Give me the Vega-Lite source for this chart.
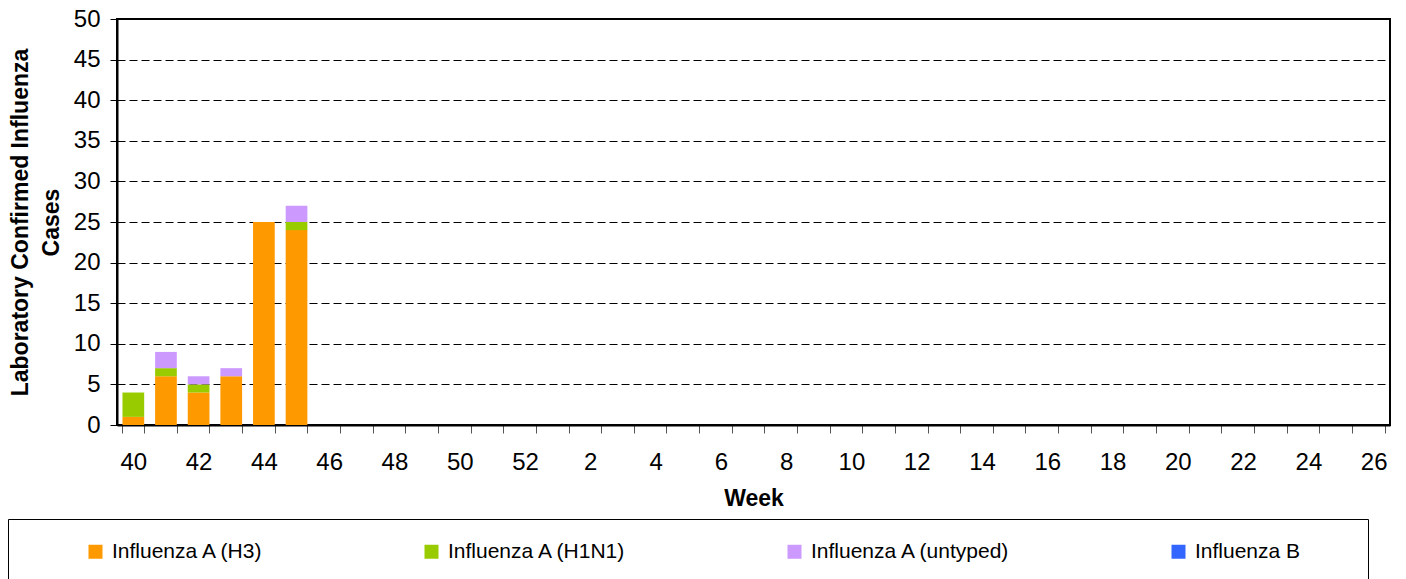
{
  "$schema": "https://vega.github.io/schema/vega-lite/v6.json",
  "width": 1273,
  "height": 406,
  "autosize": {"type": "none"},
  "padding": {"left": 117, "top": 19, "right": 16, "bottom": 154},
  "background": "#ffffff",
  "config": {
    "font": "Liberation Sans",
    "view": {"stroke": "#000000", "strokeWidth": 2}
  },
  "data": {
    "values": [
      {"week": 40, "type": "Influenza A (H3)", "cases": 1},
      {"week": 40, "type": "Influenza A (H1N1)", "cases": 3},
      {"week": 41, "type": "Influenza A (H3)", "cases": 6},
      {"week": 41, "type": "Influenza A (H1N1)", "cases": 1},
      {"week": 41, "type": "Influenza A (untyped)", "cases": 2},
      {"week": 42, "type": "Influenza A (H3)", "cases": 4},
      {"week": 42, "type": "Influenza A (H1N1)", "cases": 1},
      {"week": 42, "type": "Influenza A (untyped)", "cases": 1},
      {"week": 43, "type": "Influenza A (H3)", "cases": 6},
      {"week": 43, "type": "Influenza A (untyped)", "cases": 1},
      {"week": 44, "type": "Influenza A (H3)", "cases": 25},
      {"week": 45, "type": "Influenza A (H3)", "cases": 24},
      {"week": 45, "type": "Influenza A (H1N1)", "cases": 1},
      {"week": 45, "type": "Influenza A (untyped)", "cases": 2}
    ]
  },
  "transform": [
    {"calculate": "indexof(['Influenza A (H3)', 'Influenza A (H1N1)', 'Influenza A (untyped)', 'Influenza B'], datum.type)", "as": "stackOrder"}
  ],
  "mark": {"type": "bar"},
  "encoding": {
    "x": {
      "field": "week",
      "type": "ordinal",
      "sort": null,
      "scale": {
        "domain": [40, 41, 42, 43, 44, 45, 46, 47, 48, 49, 50, 51, 52, 1, 2, 3, 4, 5, 6, 7, 8, 9, 10, 11, 12, 13, 14, 15, 16, 17, 18, 19, 20, 21, 22, 23, 24, 25, 26],
        "paddingInner": 0.335,
        "paddingOuter": 0.1675
      },
      "axis": {
        "title": "Week",
        "labelExpr": "datum.value % 2 == 0 ? datum.label : ''",
        "tickBand": "extent",
        "labelAngle": 0,
        "labelFontSize": 24,
        "labelColor": "#000000",
        "labelPadding": 17,
        "tickSize": 8,
        "tickColor": "#555555",
        "domainColor": "#000000",
        "domainWidth": 2,
        "grid": false,
        "titleFontSize": 23,
        "titleFontWeight": "bold",
        "titleColor": "#000000",
        "titlePadding": 13
      }
    },
    "y": {
      "field": "cases",
      "type": "quantitative",
      "stack": "zero",
      "scale": {"domain": [0, 50], "nice": false},
      "axis": {
        "title": ["Laboratory Confirmed Influenza", "Cases"],
        "values": [0, 5, 10, 15, 20, 25, 30, 35, 40, 45, 50],
        "labelFontSize": 24,
        "labelColor": "#000000",
        "labelPadding": 10,
        "tickSize": 7,
        "tickColor": "#000000",
        "domainColor": "#000000",
        "domainWidth": 2,
        "grid": true,
        "gridColor": "#000000",
        "gridDash": [8, 4],
        "gridWidth": 1,
        "titleFontSize": 23,
        "titleFontWeight": "bold",
        "titleColor": "#000000",
        "titleLineHeight": 31,
        "titlePadding": 10
      }
    },
    "order": {"field": "stackOrder", "type": "quantitative", "sort": "ascending"},
    "color": {
      "field": "type",
      "type": "nominal",
      "scale": {
        "domain": ["Influenza A (H3)", "Influenza A (H1N1)", "Influenza A (untyped)", "Influenza B"],
        "range": ["#FF9900", "#99CC00", "#CC99FF", "#3366FF"]
      },
      "legend": {
        "orient": "none",
        "legendX": -109,
        "legendY": 500,
        "direction": "horizontal",
        "columns": 4,
        "gridAlign": "each",
        "columnPadding": 157,
        "title": " ",
        "titleOrient": "left",
        "titlePadding": 55,
        "padding": 22,
        "strokeColor": "#000000",
        "fillColor": "#ffffff",
        "symbolType": "square",
        "symbolSize": 196,
        "symbolStrokeWidth": 0,
        "symbolOpacity": 1,
        "labelFontSize": 21,
        "labelOffset": 6,
        "labelColor": "#000000",
        "labelLimit": 600,
        "labelExpr": "datum.label == 'Influenza B' ? datum.label + '\u2800\u2800\u2800' : datum.label"
      }
    }
  }
}
